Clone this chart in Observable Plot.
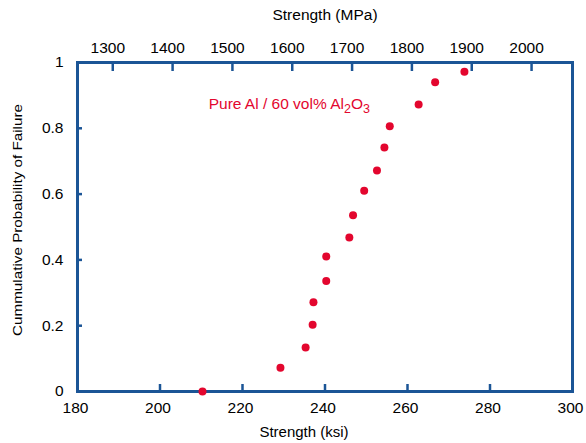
<!DOCTYPE html>
<html><head><meta charset="utf-8">
<script src="https://cdn.jsdelivr.net/npm/d3@7"></script>
<script src="https://cdn.jsdelivr.net/npm/@observablehq/plot@0.6"></script>
<style>
body{margin:0;background:#fff}
#chart svg{font-family:"Liberation Sans",Arial,sans-serif}
</style>
</head><body><div id="chart"></div>
<script>
// Data
const strengthKsi = [210.3, 229.2, 235.3, 237.0, 237.2, 240.3, 240.3, 245.9, 246.8, 249.5, 252.6, 254.4, 255.7, 262.7, 266.7, 273.8];
const probability = [0, 0.072, 0.134, 0.203, 0.271, 0.336, 0.41, 0.468, 0.536, 0.61, 0.672, 0.742, 0.806, 0.872, 0.94, 0.972];
const ksiTicks = [180, 200, 220, 240, 260, 280, 300];
const probTicks = [0, 0.2, 0.4, 0.6, 0.8, 1];
const mpaTicks = [1300, 1400, 1500, 1600, 1700, 1800, 1900, 2000];
const MPA_PER_KSI = 6.894757;
const annotationText = "Pure Al / 60 vol% Al2O3";
const annotationKsi = 211.8;
const annotationProb = 0.875;

const blue = "#1b5596";
const red = "#e3062e";

const points = strengthKsi.map((s, i) => ({s, p: probability[i]}));
const mpaPos = mpaTicks.map(m => m / MPA_PER_KSI);

const plot = Plot.plot({
  width: 586, height: 443,
  marginLeft: 77, marginRight: 14, marginTop: 62, marginBottom: 52,
  style: {fontFamily: '"Liberation Sans", Arial, sans-serif', fontSize: "15.5px", color: "#000", background: "#fff"},
  x: {domain: [180, 300]},
  y: {domain: [0, 1]},
  marks: [
    // inward tick marks
    Plot.axisX(ksiTicks.slice(1, -1), {anchor: "bottom", tickSize: -7, tickFormat: () => "", stroke: blue, strokeWidth: 2.5, label: null}),
    Plot.axisX(mpaPos, {anchor: "top", tickSize: -8, tickFormat: () => "", stroke: blue, strokeWidth: 2.5, label: null}),
    Plot.axisY(probTicks.slice(1, -1), {anchor: "left", tickSize: -5, tickFormat: () => "", stroke: blue, strokeWidth: 2.5, label: null}),
    // tick labels
    Plot.axisX(ksiTicks, {anchor: "bottom", tickSize: 0, tickPadding: 10, dx: -2, label: null, fontSize: 15.5}),
    Plot.axisX(mpaPos, {anchor: "top", tickSize: 0, tickPadding: 10, dx: -5, label: null, fontSize: 15.5,
      tickFormat: d => String(Math.round(d * MPA_PER_KSI))}),
    Plot.axisY(probTicks, {anchor: "left", tickSize: 0, tickPadding: 14, label: null, fontSize: 15.5,
      tickFormat: d => String(d)}),
    Plot.frame({stroke: blue, strokeWidth: 3}),
    // axis titles
    Plot.text(["Strength (ksi)"], {frameAnchor: "bottom", dy: 41, dx: -21, fontSize: 15, lineAnchor: "middle"}),
    Plot.text(["Strength (MPa)"], {frameAnchor: "top", dy: -47, fontSize: 15.5, lineAnchor: "middle"}),
    Plot.text(["Cummulative Probability of Failure"], {frameAnchor: "left", textAnchor: "middle", dx: -60, dy: -7, rotate: -90, fontSize: 13, lineAnchor: "middle", className: "ytitle"}),
    // annotation
    Plot.text([{x: annotationKsi, y: annotationProb, t: annotationText}], {x: "x", y: "y", text: "t", textAnchor: "start", fill: red, fontSize: 15.5, lineAnchor: "middle", className: "annot"}),
    // data
    Plot.dot(points, {x: "s", y: "p", r: 4, fill: red, stroke: "none"})
  ]
});
document.getElementById("chart").append(plot);

// stretch the y title like the reference
const yt = plot.querySelector(".ytitle text");
if (yt) { yt.setAttribute("textLength", 232); yt.setAttribute("lengthAdjust", "spacingAndGlyphs"); }

// subscripts in the annotation
const an = plot.querySelector(".annot text");
if (an) {
  const ns = "http://www.w3.org/2000/svg";
  an.textContent = "";
  const parts = [["Pure Al / 60 vol% Al", 0, 12.5 && null], ["2", 4, 12.5], ["O", -4, null], ["3", 4, 12.5]];
  for (const [t, dy, fs] of parts) {
    const ts = document.createElementNS(ns, "tspan");
    ts.textContent = t;
    if (dy) ts.setAttribute("dy", dy);
    if (fs) ts.setAttribute("font-size", fs);
    an.appendChild(ts);
  }
}
</script>
</body></html>
